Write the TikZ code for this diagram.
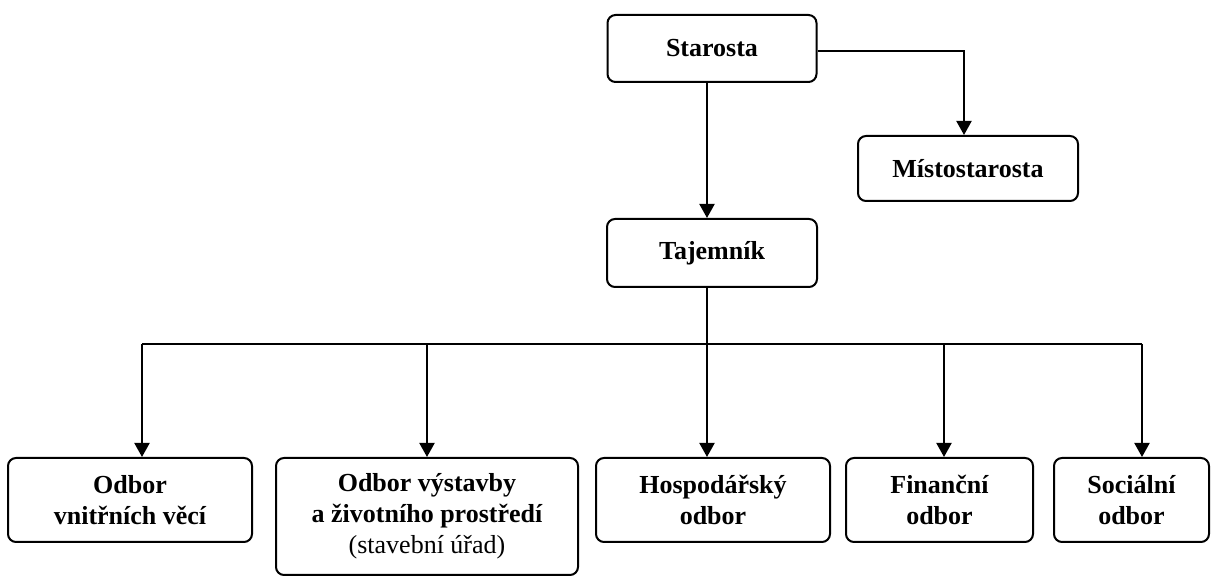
\documentclass[tikz,border=0pt]{standalone}
\usepackage{fontspec}
\setmainfont{Liberation Serif}
\usetikzlibrary{arrows.meta}
\definecolor{uradInk}{HTML}{000000}
\tikzset{
  urad box/.style={draw=uradInk, line width=1pt, rounded corners=4pt, align=center, inner sep=0pt,
    font=\fontsize{13}{15.5}\selectfont\bfseries, text=uradInk, minimum height=42pt},
  urad line/.style={draw=uradInk, line width=1pt},
  urad thin/.style={draw=uradInk, line width=0.6pt},
  urad arrow/.style={urad line, -{Triangle[length=7pt,width=7.5pt]}},
}

\begin{document}
\begin{tikzpicture}[x=0.5pt,y=0.5pt]
  \useasboundingbox (0,0) rectangle (1211,577);
  % vedeni
  \node[urad box, minimum width=104.5pt, minimum height=33.5pt] (star) at (712,528.5) {Starosta};
  \node[urad box, minimum width=110pt, minimum height=32.5pt] (mist) at (968,408.5) {Místostarosta};
  \node[urad box, minimum width=105pt, minimum height=34pt] (taj) at (712,324) {Tajemník};
  % odbory
  \node[urad box, minimum width=122pt] (vnitr) at (130,77) {Odbor\\ vnitřních věcí};
  \node[urad box, minimum width=151pt, minimum height=58.5pt] (vystav) at (427,60.5)
    {Odbor výstavby\\ a životního prostředí\\ {\mdseries (stavební úřad)}};
  \node[urad box, minimum width=117pt] (hosp) at (713,77) {Hospodářský\\ odbor};
  \node[urad box, minimum width=93.5pt] (fin) at (939.5,77) {Finanční\\ odbor};
  \node[urad box, minimum width=77.5pt] (soc) at (1131.5,77) {Sociální\\ odbor};

  \draw[urad arrow] ([xshift=-2.5pt]star.south) -- ([xshift=-2.5pt]taj.north);
  \draw[urad arrow] ([yshift=-1.25pt]star.east) -| ([xshift=-2pt]mist.north);

  \coordinate (bus) at (707,233);
  \draw[urad thin] ([xshift=-2.5pt]taj.south) -- (bus);
  \draw[urad line] ([xshift=6pt]vnitr.north |- bus) -- ([xshift=5.25pt]soc.north |- bus);
  \foreach \n/\s in {vnitr/6pt, vystav/0pt, hosp/-3pt, fin/2.25pt, soc/5.25pt}
    \draw[urad arrow] ([xshift=\s]\n.north |- bus) -- ([xshift=\s]\n.north);
\end{tikzpicture}
\end{document}
